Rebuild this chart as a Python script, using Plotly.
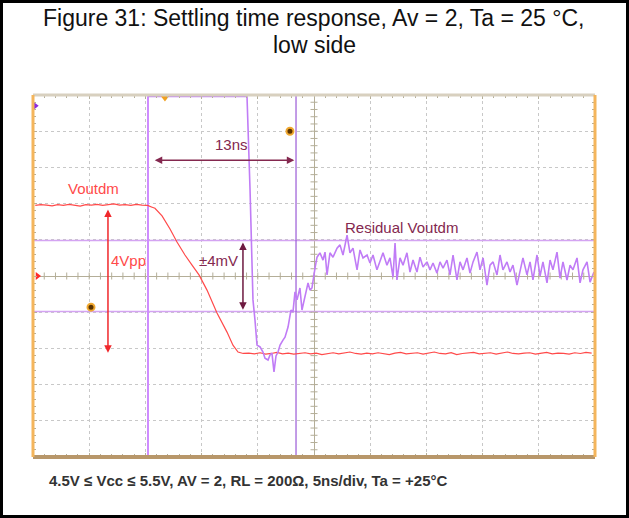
import numpy as np
import plotly.graph_objects as go

# ---- scope screen: 5 ns/div horizontally, 10 x 10 divisions ----
T_RANGE = [-25, 25]      # ns
Y_RANGE = [-5, 5]        # divisions

# Vout dm (red trace), in divisions (1 V/div)
red_t = [-24.8, -24.3, -23.8, -23.3, -22.8, -22.3, -21.8, -21.3, -20.8, -20.3,
         -19.8, -19.3, -18.8, -18.3, -17.8, -17.3, -16.8, -16.3, -15.8, -15.3,
         -14.8, -14.4, -14.15, -13.52, -12.81, -12.19, -11.48, -10.85, -10.23,
         -9.52, -8.63, -7.74, -7.21, -6.76, -6.3,
         -5.8, -5.3, -4.8, -4.3, -3.8, -3.3, -2.8, -2.3, -1.8, -1.3, -0.8, -0.3,
         0.2, 0.7, 1.2, 1.7, 2.2, 2.7, 3.2, 3.7, 4.2, 4.7, 5.2, 5.7, 6.2, 6.7,
         7.2, 7.7, 8.2, 8.7, 9.2, 9.7, 10.2, 10.7, 11.2, 11.7, 12.2, 12.7, 13.2,
         13.7, 14.2, 14.7, 15.2, 15.7, 16.2, 16.7, 17.2, 17.7, 18.2, 18.7, 19.2,
         19.7, 20.2, 20.7, 21.2, 21.7, 22.2, 22.7, 23.2, 23.7, 24.2, 24.7, 25.0]
red_v = [1.95, 1.97, 1.96, 1.94, 1.97, 1.95, 1.98, 1.96, 1.93, 1.97,
         1.96, 1.98, 1.95, 1.97, 1.99, 1.96, 1.97, 1.95, 1.98, 1.96,
         1.95, 1.90, 1.87, 1.66, 1.30, 0.94, 0.58, 0.30, 0.03,
         -0.39, -1.02, -1.55, -1.91, -2.10, -2.14,
         -2.13, -2.15, -2.12, -2.16, -2.14, -2.11, -2.15, -2.13, -2.16, -2.14,
         -2.12, -2.15, -2.13, -2.17, -2.14, -2.12, -2.15, -2.13, -2.10, -2.14,
         -2.16, -2.13, -2.15, -2.12, -2.14, -2.17, -2.13, -2.11, -2.15, -2.14,
         -2.12, -2.16, -2.13, -2.10, -2.14, -2.15, -2.12, -2.17, -2.14, -2.13,
         -2.11, -2.15, -2.14, -2.12, -2.16, -2.13, -2.10, -2.14, -2.15, -2.13,
         -2.12, -2.16, -2.14, -2.11, -2.15, -2.13, -2.14, -2.16, -2.12, -2.14,
         -2.11, -2.13]

# Residual Vout dm (purple trace), in divisions (4 mV/div); 4.96 = clipped at top
res_t = [-14.77, -5.96, -5.69, -5.52, -5.43, -5.25, -5.07, -4.80, -4.54, -4.36,
         -4.09, -3.91, -3.74, -3.56, -3.38, -3.20, -3.02, -2.76, -2.58, -2.31,
         -2.05, -1.87, -1.69, -1.51, -1.25, -1.07, -0.80, -0.53, -0.36, -0.18,
         0.09, 0.27, 0.53, 0.80, 0.98, 1.16, 1.42, 1.69, 2.05, 2.31, 2.58, 2.94,
         3.20, 3.47, 3.83, 4.09, 4.36, 4.72, 4.98, 5.25, 5.60, 5.87, 6.14, 6.49,
         6.76, 7.03, 7.21, 7.38, 7.65, 7.92, 8.27, 8.54, 8.81, 9.16, 9.43, 9.70,
         10.05, 10.32, 10.59, 10.94, 11.21, 11.48, 11.83, 12.10, 12.37, 12.72,
         12.99, 13.26, 13.61, 13.88, 14.15, 14.50, 14.77, 15.04, 15.39, 15.66,
         15.93, 16.28, 16.55, 16.81, 17.17, 17.44, 17.70, 18.06, 18.33, 18.59,
         18.95, 19.22, 19.48, 19.84, 20.11, 20.37, 20.73, 21.00, 21.26, 21.62,
         21.89, 22.15, 22.51, 22.78, 23.04, 23.40, 23.67, 23.93, 24.29, 24.56,
         24.91]
res_v = [4.96, 4.96, 2.38, 0.44, -0.66, -1.22, -1.91, -1.96, -2.10, -2.27,
         -2.32, -2.18, -2.13, -2.65, -2.21, -2.10, -1.91, -1.77, -1.69, -1.41,
         -0.94, -0.99, -0.44, -0.66, -0.33, -0.94, -0.52, -0.19, -0.39, -0.33,
         0.22, 0.52, 0.64, 0.44, 0.66, 0.03, 0.64, 0.52, 0.77, 0.86, 0.58, 1.13,
         0.64, 0.77, 0.17, 0.72, 0.50, 0.58, 0.36, 0.58, 0.17, 0.44, 0.64, 0.30,
         0.50, -0.03, 0.91, -0.11, 0.50, 0.30, 0.64, 0.11, 0.44, 0.11, 0.52, 0.25,
         0.39, 0.17, 0.36, 0.08, 0.39, 0.22, 0.44, 0.03, 0.58, -0.11,
         0.39, 0.17, 0.50, 0.08, 0.39, 0.66, 0.17, 0.50, -0.25, 0.30,
         0.39, 0.03, 0.58, 0.17, 0.39, 0.11, 0.30, -0.25, 0.17, 0.50,
         0.03, 0.39, -0.11, 0.58, 0.00, 0.39, -0.19, 0.44, 0.17, 0.66,
         -0.06, 0.39, -0.11, 0.30, 0.17, 0.50, -0.19, 0.17, 0.39, -0.17,
         0.11]

cursor_t = [-14.77, -1.6]      # time cursors (ns)
limit_v = [0.98, -0.98]        # +/-4 mV window (div)
span_arrow_t = [-14.3, -1.75]  # 13 ns arrow
span_arrow_y = 3.2
vpp_arrow_t = -18.33
vpp_arrow_v = [1.88, -2.12]
mv_arrow_t = -6.32
mv_arrow_v = [0.97, -0.93]
dot_t = [-2.14, -19.84]
dot_v = [4.0, -0.86]
trig_t = -13.26

TITLE = "Figure 31: Settling time response, Av = 2, Ta = 25 °C,"
TITLE2 = "low side"
FOOT = "4.5V ≤ Vcc ≤ 5.5V, AV = 2, RL = 200Ω, 5ns/div, Ta = +25°C"

FONT = "Liberation Sans, Arial, sans-serif"
MAROON = "#84284f"
RED = "#ff4a4a"
PURPLE = "#c07cf6"
GRAT = "#b4ae98"

W, H = 629, 518
ML, MR, MT, MB = 33, 34, 95, 61
PW, PH = W - ML - MR, H - MT - MB


def px(x):  # pixel -> paper x
    return (x - ML) / PW


def py(y):  # pixel -> paper y
    return (H - MB - y) / PH


fig = go.Figure()

# crossing minor ticks on the centre axes (graticule decoration)
minor_x = np.arange(T_RANGE[0], T_RANGE[1] + 0.01, 1.0)
minor_y = np.arange(Y_RANGE[0], Y_RANGE[1] + 0.01, 0.2)
fig.add_trace(go.Scatter(x=minor_x, y=np.zeros_like(minor_x), mode="markers",
                         marker=dict(symbol="line-ns-open", size=5, color=GRAT,
                                     line=dict(color=GRAT, width=1)),
                         hoverinfo="skip", showlegend=False))
fig.add_trace(go.Scatter(x=np.zeros_like(minor_y), y=minor_y, mode="markers",
                         marker=dict(symbol="line-ew-open", size=5, color=GRAT,
                                     line=dict(color=GRAT, width=1)),
                         hoverinfo="skip", showlegend=False))

# traces
fig.add_trace(go.Scatter(x=red_t, y=red_v, mode="lines",
                         line=dict(color=RED, width=1.2),
                         hoverinfo="skip", showlegend=False))
fig.add_trace(go.Scatter(x=res_t, y=res_v, mode="lines",
                         line=dict(color=PURPLE, width=1.6),
                         hoverinfo="skip", showlegend=False))

# marker dots
fig.add_trace(go.Scatter(x=dot_t, y=dot_v, mode="markers",
                         marker=dict(size=7, color="#5a3300",
                                     line=dict(color="#f0a830", width=2)),
                         hoverinfo="skip", showlegend=False))
fig.add_trace(go.Scatter(x=[trig_t], y=[4.93], mode="markers",
                         marker=dict(size=8, color="#f0a020", symbol="triangle-down"),
                         hoverinfo="skip", showlegend=False, cliponaxis=False))
fig.add_trace(go.Scatter(x=[-24.85], y=[4.7], mode="markers",
                         marker=dict(size=8, color="#8a2be2", symbol="triangle-right"),
                         hoverinfo="skip", showlegend=False, cliponaxis=False))
fig.add_trace(go.Scatter(x=[-24.6], y=[0.0], mode="markers",
                         marker=dict(size=7, color="#ff2a2a", symbol="triangle-right"),
                         hoverinfo="skip", showlegend=False, cliponaxis=False))

shapes = []
# limit lines
for v in limit_v:
    shapes.append(dict(type="line", xref="x", yref="y", x0=T_RANGE[0], x1=T_RANGE[1],
                       y0=v, y1=v, line=dict(color="#d4a4f2", width=1.5), layer="between"))
# cursors
shapes.append(dict(type="line", xref="x", yref="y", x0=cursor_t[0], x1=cursor_t[0],
                   y0=Y_RANGE[0], y1=Y_RANGE[1], line=dict(color="#cf8cff", width=2),
                   layer="between"))
shapes.append(dict(type="line", xref="x", yref="y", x0=cursor_t[1], x1=cursor_t[1],
                   y0=Y_RANGE[0], y1=Y_RANGE[1], line=dict(color="#9a5ad6", width=1.2),
                   layer="between"))
# screen frame
shapes += [
    dict(type="line", xref="paper", yref="paper", x0=0, x1=1, y0=1, y1=1,
         line=dict(color="#d8d0bf", width=3), layer="above"),
    dict(type="line", xref="paper", yref="paper", x0=0, x1=1, y0=0, y1=0,
         line=dict(color="#b8976a", width=4), layer="above"),
    dict(type="line", xref="paper", yref="paper", x0=0, x1=0, y0=0, y1=1,
         line=dict(color="#f4b55c", width=3), layer="above"),
    dict(type="line", xref="paper", yref="paper", x0=1, x1=1, y0=0, y1=1,
         line=dict(color="#f4b55c", width=3), layer="above"),
]
# outer black box
shapes.append(dict(type="rect", xref="paper", yref="paper",
                   x0=px(1.5), x1=px(W - 1.5), y0=py(H - 1.5), y1=py(1.5),
                   line=dict(color="black", width=3), layer="above"))

LBL = 15
annotations = [
    dict(text=TITLE, xref="paper", yref="paper", x=px(314), y=py(18),
         xanchor="center", yanchor="middle",
         showarrow=False, font=dict(family=FONT, size=23, color="#111")),
    dict(text=TITLE2, xref="paper", yref="paper", x=px(314), y=py(45),
         xanchor="center", yanchor="middle",
         showarrow=False, font=dict(family=FONT, size=23, color="#111")),
    dict(text="<b>" + FOOT + "</b>", xref="paper", yref="paper", x=px(47), y=py(480),
         xanchor="left", yanchor="middle", showarrow=False,
         font=dict(family=FONT, size=15, color="#333")),
    # labels
    dict(text="13ns", x=-7.38, y=3.62, showarrow=False,
         font=dict(family=FONT, size=LBL, color=MAROON)),
    dict(text="Voutdm", x=-19.66, y=2.43, showarrow=False,
         font=dict(family=FONT, size=LBL, color=RED)),
    dict(text="4Vpp", x=-16.5, y=0.44, showarrow=False,
         font=dict(family=FONT, size=LBL, color=RED)),
    dict(text="±4mV", x=-8.54, y=0.44, showarrow=False,
         font=dict(family=FONT, size=LBL, color=MAROON)),
    dict(text="Residual Voutdm", x=7.74, y=1.33, showarrow=False,
         font=dict(family=FONT, size=LBL, color=MAROON)),
    # arrows
    dict(text="", x=span_arrow_t[1], y=span_arrow_y, ax=span_arrow_t[0], ay=span_arrow_y,
         xref="x", yref="y", axref="x", ayref="y", showarrow=True, arrowhead=2,
         arrowside="end+start", arrowsize=1, arrowwidth=1.5, arrowcolor=MAROON,
         standoff=0, startstandoff=0),
    dict(text="", x=vpp_arrow_t, y=vpp_arrow_v[1], ax=vpp_arrow_t, ay=vpp_arrow_v[0],
         xref="x", yref="y", axref="x", ayref="y", showarrow=True, arrowhead=2,
         arrowside="end+start", arrowsize=1, arrowwidth=1.5, arrowcolor="#f0282c",
         standoff=0, startstandoff=0),
    dict(text="", x=mv_arrow_t, y=mv_arrow_v[1], ax=mv_arrow_t, ay=mv_arrow_v[0],
         xref="x", yref="y", axref="x", ayref="y", showarrow=True, arrowhead=2,
         arrowside="end+start", arrowsize=1, arrowwidth=1.5, arrowcolor="#6e1a40",
         standoff=0, startstandoff=0),
]

axis_common = dict(showticklabels=False, ticks="inside", ticklen=4, tickcolor=GRAT,
                   mirror="ticks", showline=False, showgrid=True, gridcolor="#c8c8c8",
                   griddash="dot", gridwidth=1, zeroline=True, zerolinecolor=GRAT,
                   zerolinewidth=1, fixedrange=True)

fig.update_layout(
    width=W, height=H, margin=dict(l=ML, r=MR, t=MT, b=MB),
    paper_bgcolor="white", plot_bgcolor="white",
    xaxis=dict(range=T_RANGE, tick0=0, dtick=5,
               minor=dict(dtick=1, ticks="inside", ticklen=3, tickcolor=GRAT,
                          showgrid=False), **axis_common),
    yaxis=dict(range=Y_RANGE, tick0=0, dtick=1,
               minor=dict(dtick=0.2, ticks="inside", ticklen=3, tickcolor=GRAT,
                          showgrid=False), **axis_common),
    shapes=shapes, annotations=annotations, showlegend=False,
)

fig.write_html("out.html")
